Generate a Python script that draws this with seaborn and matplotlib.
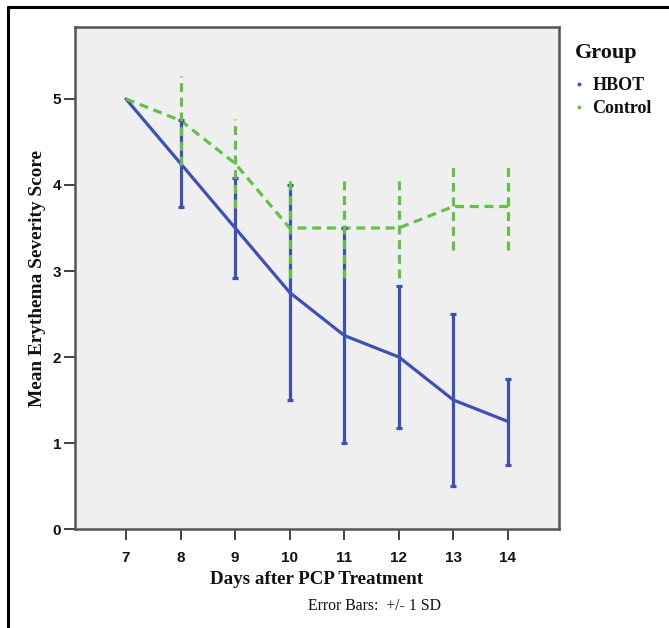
import pandas as pd
import matplotlib.pyplot as plt
import seaborn as sns
from matplotlib.lines import Line2D

# Data
days = [7, 8, 9, 10, 11, 12, 13, 14]
hbot_mean = [5.0, 4.25, 3.5, 2.75, 2.25, 2.0, 1.5, 1.25]
hbot_sd = [0.0, 0.5, 0.58, 1.25, 1.25, 0.82, 1.0, 0.5]
control_mean = [5.0, 4.75, 4.25, 3.5, 3.5, 3.5, 3.75, 3.75]
control_sd = [0.0, 0.52, 0.52, 0.58, 0.58, 0.58, 0.5, 0.5]

groups = ['HBOT', 'Control']
colors = {'HBOT': '#3e4fb5', 'Control': '#64c046'}

df = pd.concat([
    pd.DataFrame({'Day': days, 'Score': hbot_mean, 'SD': hbot_sd, 'Group': 'HBOT'}),
    pd.DataFrame({'Day': days, 'Score': control_mean, 'SD': control_sd, 'Group': 'Control'}),
])

sns.set_style('white')
plt.rcParams['font.family'] = ['Liberation Serif', 'DejaVu Serif']
plt.rcParams['text.color'] = '#111111'
plt.rcParams['axes.labelcolor'] = '#111111'
plt.rcParams['xtick.labelcolor'] = '#111111'
plt.rcParams['ytick.labelcolor'] = '#111111'

fig = plt.figure(figsize=(6.69, 6.28), dpi=100)
ax = fig.add_axes([0.1121, 0.1576, 0.7235, 0.7994])
ax.set_facecolor('#efefef')

sns.lineplot(data=df, x='Day', y='Score', hue='Group', style='Group',
             hue_order=groups, style_order=groups, palette=colors,
             dashes={'HBOT': '', 'Control': (2.8, 1.8)},
             linewidth=2.3, errorbar=None, legend=False, ax=ax)

# Error bars +/- 1 SD
for g in groups:
    sub = df[df['Group'] == g]
    sub = sub[sub['SD'] > 0]
    eb = ax.errorbar(sub['Day'], sub['Score'], yerr=sub['SD'], fmt='none',
                     ecolor=colors[g], elinewidth=2.3,
                     capsize=2.5 if g == 'HBOT' else 0, capthick=2.3, zorder=3)
    if g == 'Control':
        eb[2][0].set_linestyle((0, (2.8, 1.8)))
        eb[2][0].set_zorder(4)

ax.set_xlim(6.065, 14.935)
ax.set_ylim(0, 5.837)
ax.set_xticks(days)
ax.set_yticks([0, 1, 2, 3, 4, 5])
ax.tick_params(axis='both', direction='out', length=8, width=1.3, color='#333333',
               left=True, bottom=True, pad=2)
ax.tick_params(axis='x', pad=8)
for lab in ax.get_xticklabels() + ax.get_yticklabels():
    lab.set_fontfamily('Liberation Sans')
    lab.set_fontweight('bold')
    lab.set_fontsize(11)

for side, sp in ax.spines.items():
    sp.set_visible(True)
    sp.set_color('#555555')
    sp.set_linewidth(1.8)

ax.set_xlabel('Days after PCP Treatment', fontsize=13.7, fontweight='bold', labelpad=4)
ax.set_ylabel('Mean Erythema Severity Score', fontsize=13.9, fontweight='bold', labelpad=5)

# Legend
handles = [Line2D([], [], linestyle='none', marker='o', markersize=1.8,
                  color=colors[g]) for g in groups]
leg = fig.legend(handles, groups, title='Group', loc='upper left',
                 bbox_to_anchor=(575 / 669, 1 - 43 / 628), frameon=False,
                 prop={'weight': 'bold', 'size': 13}, handlelength=0.4,
                 handletextpad=0.55, labelspacing=0.35, borderpad=0,
                 borderaxespad=0)
leg.get_title().set_fontweight('bold')
leg.get_title().set_fontsize(16)
leg._legend_box.align = 'left'
leg._legend_box.sep = 10

fig.text(0.5605, 0.035, 'Error Bars:  +/- 1 SD', fontsize=11.3, ha='center', va='center')

# outer frame (left and top edges)
fig.add_artist(Line2D([8 / 669, 8 / 669], [0, 1 - 7 / 628], color='black', linewidth=2.2,
                      transform=fig.transFigure))
fig.add_artist(Line2D([8 / 669, 1.0], [1 - 7 / 628, 1 - 7 / 628], color='black', linewidth=2.2,
                      transform=fig.transFigure))

fig.savefig('out.png', dpi=100)
